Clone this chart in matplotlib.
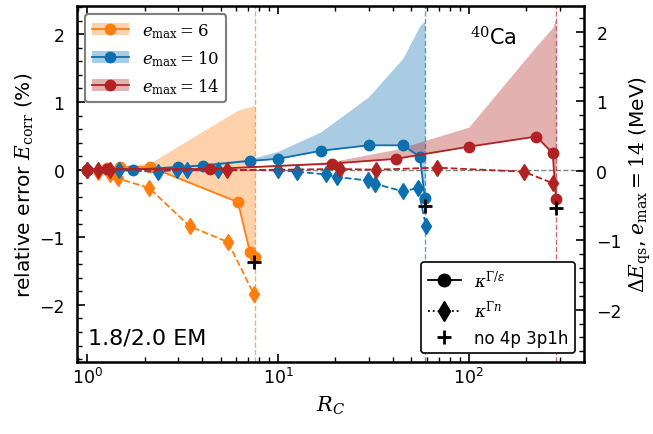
import numpy as np
import matplotlib
matplotlib.use("Agg")
import matplotlib.pyplot as plt
from matplotlib.lines import Line2D
from matplotlib.patches import Patch
from matplotlib.ticker import MultipleLocator

plt.rcParams['mathtext.fontset'] = 'dejavuserif'
plt.rcParams['font.family'] = ['DejaVu Sans']

# e_max = 6
x6_c = [1.0, 1.27, 1.49, 2.14, 6.17, 7.13, 7.57]
y6_c = [0.0, 0.03, 0.04, 0.04, -0.48, -1.22, -1.29]
up6 = [0.0, 0.02, 0.05, 0.10, 0.88, 0.93, 0.95]
x6_d = [1.0, 1.14, 1.32, 1.45, 2.11, 3.46, 5.47, 7.47]
y6_d = [0.0, -0.03, -0.07, -0.13, -0.27, -0.84, -1.07, -1.84]
x6_p, y6_p = 7.5, -1.37
rc6 = 7.57

# e_max = 10
x10_c = [1.0, 1.74, 2.99, 4.05, 7.13, 9.99, 16.8, 29.9, 45.2, 55.4, 58.8]
y10_c = [0.0, 0.0, 0.04, 0.06, 0.13, 0.16, 0.28, 0.36, 0.36, 0.19, -0.42]
up10 = [0.0, 0.02, 0.06, 0.09, 0.16, 0.27, 0.56, 1.08, 1.65, 2.13, 2.2]
x10_d = [1.0, 1.47, 2.35, 2.96, 3.33, 4.85, 10.0, 12.6, 17.8, 20.4, 29.6, 32.2, 45.2, 54.2, 59.5]
y10_d = [0.0, -0.01, -0.03, 0.0, -0.01, 0.0, -0.01, -0.03, -0.07, -0.11, -0.16, -0.21, -0.32, -0.27, -0.83]
x10_p, y10_p = 58.8, -0.53
rc10 = 58.8

# e_max = 14
x14_c = [1.0, 1.27, 4.4, 19.2, 41.4, 100, 226, 275, 286]
y14_c = [0.0, 0.01, 0.01, 0.09, 0.16, 0.34, 0.49, 0.24, -0.43]
up14 = [0.0, 0.01, 0.02, 0.12, 0.30, 0.63, 1.83, 2.1, 2.24]
x14_d = [1.0, 1.14, 1.32, 5.4, 21.1, 32.5, 68, 194, 275]
y14_d = [0.0, 0.0, 0.0, -0.01, 0.01, 0.0, 0.03, -0.03, -0.2]
x14_p, y14_p = 286, -0.56
rc14 = 286

emax_labels = [r'$e_{\rm max} = 6$', r'$e_{\rm max} = 10$', r'$e_{\rm max} = 14$']
colors = ['#ff7f0e', '#0c6fb0', '#b22222']

fig = plt.figure(figsize=(6.53, 4.35), dpi=100)
ax = fig.add_axes([0.118, 0.166, 0.776, 0.818])

sets = [
    (x6_c, y6_c, up6, x6_d, y6_d, x6_p, y6_p, rc6),
    (x10_c, y10_c, up10, x10_d, y10_d, x10_p, y10_p, rc10),
    (x14_c, y14_c, up14, x14_d, y14_d, x14_p, y14_p, rc14),
]

ax.axhline(0, color='gray', ls='--', lw=1, zorder=1)
handles = []
for (xc, yc, up, xd, yd, xp, yp, rc), col, lab in zip(sets, colors, emax_labels):
    ax.fill_between(xc, yc, up, color=col, alpha=0.35, lw=0, zorder=1)
    ax.axvline(rc, color=col, ls='--', lw=1, alpha=0.65, zorder=1)
    ax.plot(xc, yc, '-o', color=col, ms=7.5, lw=1.3, zorder=3)
    ax.plot(xd, yd, '--d', color=col, ms=8.5, lw=1.3, zorder=3)
    ax.plot(xp, yp, '+', color='k', ms=10, mew=2, zorder=5)
    handles.append((Patch(facecolor=col, alpha=0.35, lw=0),
                    Line2D([], [], color=col, marker='o', ms=7.5, lw=1.3)))

ax.set_xscale('log')
ax.set_xlim(0.886, 400)
ax.set_ylim(-2.84, 2.42)
ax.yaxis.set_major_locator(MultipleLocator(1))
ax.yaxis.set_minor_locator(MultipleLocator(0.2))
ax.tick_params(which='both', direction='in', top=True, labelsize=12.5)
ax.tick_params(axis='y', pad=9)
ax.tick_params(which='major', length=6, width=1.2)
ax.tick_params(which='minor', length=3.5, width=1)
for s in ax.spines.values():
    s.set_linewidth(1.8)
ax.set_xlabel(r'$R_C$', fontsize=15, labelpad=5)
ax.set_ylabel(r'relative error $E_{\rm corr}$ (%)', fontsize=14.5, labelpad=2)

ax2 = ax.twinx()
ax2.set_ylim(-2.75, 2.37)
ax2.yaxis.set_major_locator(MultipleLocator(1))
ax2.yaxis.set_minor_locator(MultipleLocator(0.2))
ax2.tick_params(which='both', direction='in', labelsize=12.5, pad=9)
ax2.tick_params(which='major', length=6, width=1.2)
ax2.tick_params(which='minor', length=3.5, width=1)
ax2.set_ylabel(r'$\Delta E_{\rm qs}$, $e_{\rm max} = 14$ (MeV)', fontsize=14.5)

leg1 = ax.legend(handles, emax_labels, loc='upper left', fontsize=12,
                 edgecolor='gray', framealpha=1, handlelength=2.2)
leg1.get_frame().set_linewidth(1.5)
ax.add_artist(leg1)

h2 = [Line2D([], [], color='k', marker='o', ms=9, lw=1.3),
      Line2D([], [], color='k', marker='d', ms=10, ls=':', lw=1.3),
      Line2D([], [], color='k', marker='+', ms=10, mew=2, ls='none')]
l2 = [r'$\kappa^{\Gamma/\varepsilon}$', r'$\kappa^{\Gamma n}$', 'no 4p 3p1h']
leg2 = ax2.legend(h2, l2, loc='lower right', fontsize=12, edgecolor='k',
                  framealpha=1)
leg2.get_frame().set_linewidth(1.2)

ax.text(0.022, 0.05, '1.8/2.0 EM', transform=ax.transAxes, fontsize=16)
ax.text(0.775, 0.892, r'$^{40}$Ca', transform=ax.transAxes, fontsize=15)

fig.savefig('out.png', dpi=100)
